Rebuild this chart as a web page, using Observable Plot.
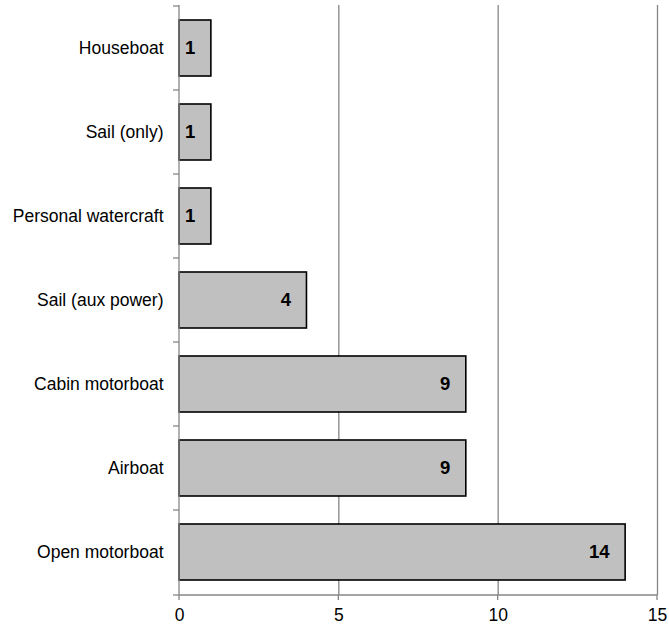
<!DOCTYPE html>
<html>
<head>
<meta charset="utf-8">
<script src="https://cdn.jsdelivr.net/npm/d3@7"></script>
<script src="https://cdn.jsdelivr.net/npm/@observablehq/plot@0.6"></script>
<style>
  html, body { margin: 0; padding: 0; background: #fff; }
  #chart { width: 669px; height: 628px; }
</style>
</head>
<body>
<div id="chart"></div>
<script>
const categories = ["Houseboat", "Sail (only)", "Personal watercraft", "Sail (aux power)", "Cabin motorboat", "Airboat", "Open motorboat"];
const counts = [1, 1, 1, 4, 9, 9, 14];
const xTicks = [0, 5, 10, 15];
const gridValues = [5, 10, 15];

const data = categories.map((c, i) => ({category: c, count: counts[i]}));

const axisColor = "#868686";

function axisFrame(index, scales, values, dimensions) {
  const x = scales.x, y = scales.y;
  const g = d3.create("svg:g").attr("fill", "none").attr("stroke", axisColor).attr("stroke-width", 1.3);
  const top = dimensions.marginTop;
  const bottom = dimensions.height - dimensions.marginBottom;
  const x0 = x(0), x1 = x(15);
  g.append("line").attr("x1", x0).attr("x2", x0).attr("y1", top).attr("y2", bottom);
  g.append("line").attr("x1", x0).attr("x2", x1).attr("y1", bottom).attr("y2", bottom);
  const step = y.step ? y.step() : (bottom - top) / categories.length;
  const bw = y.bandwidth ? y.bandwidth() : step * 0.67;
  const bounds = categories.map(c => y(c) - (step - bw) / 2);
  bounds.push(bottom);
  for (const b of bounds) {
    g.append("line").attr("x1", x0 - 6).attr("x2", x0).attr("y1", b).attr("y2", b);
  }
  for (const t of xTicks) {
    g.append("line").attr("x1", x(t)).attr("x2", x(t)).attr("y1", bottom).attr("y2", bottom + 5);
  }
  return g.node();
}

const chart = Plot.plot({
  width: 669,
  height: 628,
  marginLeft: 179,
  marginRight: 12,
  marginTop: 5,
  marginBottom: 33,
  style: {fontFamily: "Arial, 'Liberation Sans', sans-serif", fontSize: "17.5px", color: "#000", background: "#fff"},
  x: {domain: [0, 15], ticks: xTicks, label: null},
  y: {domain: categories, paddingInner: 0.33, paddingOuter: 0.165, label: null},
  marks: [
    Plot.ruleX(gridValues, {stroke: axisColor, strokeWidth: 1.3, strokeOpacity: 1}),
    Plot.barX(data, {x: "count", y: "category", fill: "#c0c0c0", stroke: "#000", strokeWidth: 1.6}),
    Plot.text(data, {x: "count", y: "category", text: d => String(d.count), textAnchor: "end", dx: -16, fontWeight: "bold", fontSize: 18.5, fill: "#000"}),
    axisFrame,
    Plot.axisX(xTicks, {tickSize: 0, tickPadding: 13, fontSize: 17.5, fill: "#000", label: null}),
    Plot.axisY({tickSize: 0, tickPadding: 16, fontSize: 17.5, fill: "#000", label: null})
  ]
});
document.getElementById("chart").appendChild(chart);
</script>
</body>
</html>
